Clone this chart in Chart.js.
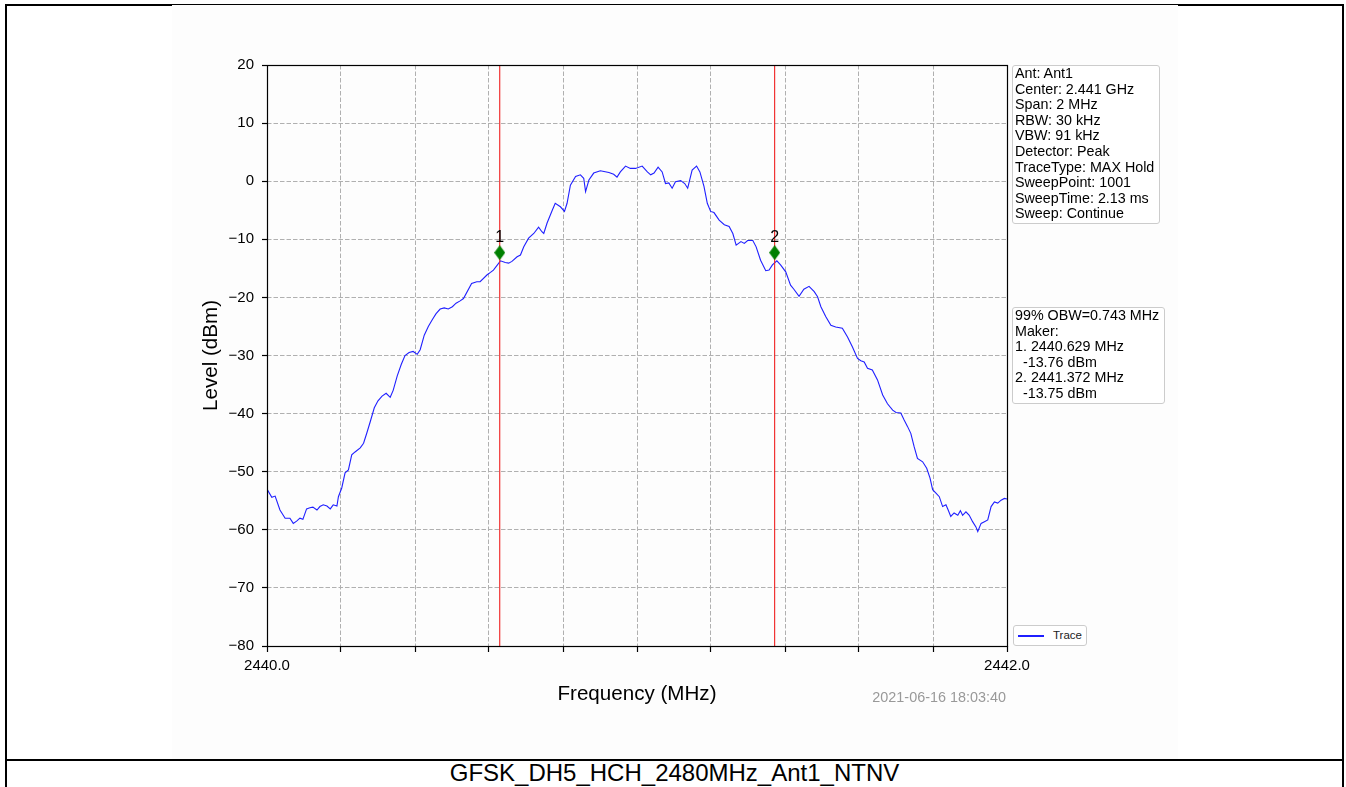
<!DOCTYPE html>
<html>
<head>
<meta charset="utf-8">
<title>GFSK_DH5_HCH_2480MHz_Ant1_NTNV</title>
<script src="https://cdn.jsdelivr.net/npm/chart.js@4.4.0/dist/chart.umd.min.js"></script>
<style>
  html, body { margin: 0; padding: 0; background: #fff; }
  body { width: 1346px; height: 787px; position: relative; overflow: hidden;
         font-family: "Liberation Sans", Arial, sans-serif; color: #000; }
  #frame { position: absolute; left: 5px; top: 4px; width: 1339px; height: 900px;
           border: 2px solid #000; box-sizing: border-box; }
  #divider { position: absolute; left: 5px; top: 759px; width: 1339px; height: 2px; background: #000; }
  #plotbg { position: absolute; left: 172px; top: 5px; width: 1006px; height: 755px; background: #fdfdfd; }
  #chart { position: absolute; left: 0; top: 0; z-index: 2; }
  .box { position: absolute; z-index: 3; background: #fff; border: 1px solid #cccccc; border-radius: 3px;
         box-sizing: border-box; font-size: 14.3px; line-height: 15.6px; white-space: pre; padding: 0 0 0 2px; color: #000; }
  #info { left: 1012px; top: 65px; width: 148px; height: 159px; }
  #obw { left: 1012px; top: 307px; width: 153px; height: 97px; }
  #legend { position: absolute; z-index: 3; left: 1013px; top: 625px; width: 74px; height: 21px;
            border: 1px solid #cccccc; border-radius: 3px; box-sizing: border-box; background: #fff;
            font-size: 11.5px; line-height: 19px; }
  #legend .swatch { position: absolute; left: 4px; top: 9px; width: 26px; height: 1.5px; background: #0000ff; }
  #legend .lbl { position: absolute; left: 39px; top: 0; color: #222; }
  #stamp { position: absolute; z-index: 3; right: 340px; top: 689px; font-size: 14.4px; color: #999; white-space: nowrap; }
  #caption { position: absolute; left: 5px; width: 1339px; top: 760px; height: 26px; line-height: 26px;
             text-align: center; font-size: 24px; }
</style>
</head>
<body>
<div id="frame"></div>
<div id="plotbg"></div>
<div id="divider"></div>
<canvas id="chart" width="1346" height="787"></canvas>
<div id="info" class="box"></div>
<div id="obw" class="box"></div>
<div id="legend"></div>
<div id="stamp">2021-06-16 18:03:40</div>
<div id="caption">GFSK_DH5_HCH_2480MHz_Ant1_NTNV</div>
<script>
// trace: frequency (MHz) and level (dBm)
const freqMHz = [
  2440.000, 2440.013, 2440.022, 2440.035, 2440.049, 2440.062, 2440.071, 2440.080, 2440.089, 2440.097,
  2440.107, 2440.116, 2440.124, 2440.135, 2440.143, 2440.152, 2440.162, 2440.171, 2440.179, 2440.189,
  2440.193, 2440.202, 2440.211, 2440.220, 2440.229, 2440.238, 2440.252, 2440.261, 2440.270, 2440.279,
  2440.290, 2440.300, 2440.311, 2440.322, 2440.333, 2440.341, 2440.352, 2440.363, 2440.373, 2440.384,
  2440.395, 2440.406, 2440.414, 2440.425, 2440.436, 2440.447, 2440.457, 2440.468, 2440.479, 2440.490,
  2440.501, 2440.511, 2440.522, 2440.531, 2440.553, 2440.567, 2440.576, 2440.595, 2440.604, 2440.612,
  2440.631, 2440.644, 2440.653, 2440.662, 2440.676, 2440.685, 2440.694, 2440.707, 2440.721, 2440.734,
  2440.743, 2440.748, 2440.757, 2440.771, 2440.779, 2440.793, 2440.804, 2440.811, 2440.820, 2440.834,
  2440.847, 2440.856, 2440.861, 2440.870, 2440.883, 2440.901, 2440.924, 2440.937, 2440.946, 2440.955,
  2440.969, 2440.982, 2440.996, 2441.014, 2441.028, 2441.037, 2441.046, 2441.057, 2441.068, 2441.077,
  2441.086, 2441.095, 2441.104, 2441.118, 2441.129, 2441.137, 2441.149, 2441.161, 2441.170, 2441.181,
  2441.190, 2441.199, 2441.208, 2441.222, 2441.236, 2441.249, 2441.259, 2441.268, 2441.281, 2441.290,
  2441.299, 2441.313, 2441.322, 2441.334, 2441.348, 2441.357, 2441.366, 2441.378, 2441.388, 2441.402,
  2441.415, 2441.424, 2441.438, 2441.451, 2441.465, 2441.479, 2441.488, 2441.497, 2441.510, 2441.524,
  2441.537, 2441.555, 2441.569, 2441.582, 2441.596, 2441.605, 2441.614, 2441.623, 2441.636, 2441.650,
  2441.664, 2441.677, 2441.691, 2441.700, 2441.713, 2441.722, 2441.731, 2441.740, 2441.749, 2441.758,
  2441.772, 2441.783, 2441.792, 2441.799, 2441.808, 2441.817, 2441.826, 2441.835, 2441.841, 2441.848,
  2441.857, 2441.867, 2441.874, 2441.880, 2441.889, 2441.898, 2441.907, 2441.916, 2441.921, 2441.930,
  2441.939, 2441.948, 2441.957, 2441.966, 2441.975, 2441.984, 2441.993, 2442.000
];
const levelDbm = [
  -53.0, -54.4, -54.2, -56.6, -58.0, -58.0, -58.9, -58.5, -58.0, -58.2,
  -56.4, -56.2, -56.1, -56.6, -56.0, -55.7, -55.9, -56.4, -55.7, -55.9,
  -54.3, -52.8, -50.2, -49.7, -47.1, -46.6, -45.9, -45.1, -43.3, -41.4,
  -39.0, -37.8, -37.0, -36.5, -37.2, -36.0, -33.5, -31.5, -30.0, -29.5,
  -29.3, -29.8, -29.0, -26.5, -25.0, -23.8, -22.8, -22.0, -21.8, -22.0,
  -21.6, -21.0, -20.6, -20.2, -17.6, -17.3, -17.3, -16.1, -15.7, -15.3,
  -13.7, -14.0, -14.1, -13.8, -13.0, -12.7, -11.3, -9.8, -9.0, -7.9,
  -8.7, -9.0, -7.2, -5.0, -3.8, -4.4, -5.2, -3.8, -0.7, 0.8,
  1.1, 0.5, -1.8, 0.2, 1.4, 1.8, 1.5, 1.2, 0.7, 1.6,
  2.6, 2.2, 2.2, 2.6, 1.6, 1.1, 1.4, 2.4, 1.6, -0.4,
  -0.3, -1.2, -0.1, 0.1, -0.4, -1.2, 1.9, 2.6, 1.6, -0.9,
  -3.8, -5.2, -5.4, -6.7, -7.5, -7.8, -9.0, -11.0, -10.4, -10.7,
  -10.2, -10.2, -11.3, -13.6, -15.4, -15.3, -14.4, -13.7, -14.4, -15.6,
  -17.9, -18.6, -19.8, -18.6, -18.1, -19.0, -19.9, -21.6, -23.3, -24.8,
  -25.1, -25.3, -26.8, -28.5, -30.5, -30.9, -31.1, -32.2, -32.5, -34.2,
  -36.8, -38.3, -39.4, -39.8, -39.9, -41.1, -42.2, -43.4, -45.7, -47.7,
  -48.3, -49.4, -51.1, -53.1, -53.7, -54.3, -56.0, -55.7, -56.6, -57.7,
  -57.1, -57.5, -56.7, -57.5, -56.9, -57.5, -58.6, -59.5, -60.3, -58.9,
  -58.6, -58.3, -56.0, -55.2, -55.4, -54.9, -54.6, -54.7
];

// markers (99% OBW edges)
const markerNames = ['1', '2'];
const markerFreqs = [2440.629, 2441.372];
const markerLevels = [-13.76, -13.75];
const diamondLevels = [-12.3, -12.3];   // where the diamonds sit on the plot
const obwMHz = 0.743;

// axes
const xMin = 2440.0, xMax = 2442.0, xStep = 0.2;
const yMin = -80, yMax = 20, yStep = 10;
const xLabelValues = [2440.0, 2442.0];

const infoLines = [
  'Ant: Ant1', 'Center: 2.441 GHz', 'Span: 2 MHz', 'RBW: 30 kHz', 'VBW: 91 kHz',
  'Detector: Peak', 'TraceType: MAX Hold', 'SweepPoint: 1001', 'SweepTime: 2.13 ms', 'Sweep: Continue'
];

const FONT = '"Liberation Sans", Arial, sans-serif';

// text boxes
document.getElementById('info').textContent = infoLines.join('\n');
const obwLines = ['99% OBW=' + obwMHz.toFixed(3) + ' MHz', 'Maker:'];
markerNames.forEach((n, i) => {
  obwLines.push(n + '. ' + markerFreqs[i].toFixed(3) + ' MHz');
  obwLines.push('  ' + markerLevels[i].toFixed(2) + ' dBm');
});
document.getElementById('obw').textContent = obwLines.join('\n');

// thin diamond used as point style
function diamond(w, h, color){
  const c = document.createElement('canvas');
  c.width = w; c.height = h;
  const g = c.getContext('2d');
  g.fillStyle = color;
  g.beginPath();
  g.moveTo(w/2, 0); g.lineTo(w, h/2); g.lineTo(w/2, h); g.lineTo(0, h/2);
  g.closePath();
  g.fill();
  return c;
}

// spines on all four sides + marker numbers
const framePlugin = {
  id: 'frame',
  afterDraw(chart){
    const {ctx, chartArea: a, scales} = chart;
    ctx.save();
    ctx.fillStyle = '#000';
    ctx.font = '16px ' + FONT;
    ctx.textAlign = 'center';
    ctx.textBaseline = 'middle';
    markerNames.forEach((n, i) => {
      const px = scales.x.getPixelForValue(markerFreqs[i]);
      const py = scales.y.getPixelForValue(diamondLevels[i]);
      ctx.fillText(n, px, py - 15);
    });
    ctx.strokeStyle = '#000';
    ctx.lineWidth = 1.2;
    ctx.strokeRect(Math.round(a.left) + 0.5, Math.round(a.top) + 0.5,
                   Math.round(a.right - a.left), Math.round(a.bottom - a.top));
    ctx.restore();
  }
};

const trace = freqMHz.map((f, i) => ({x: f, y: levelDbm[i]}));
const redLines = markerFreqs.map(f => ({
  data: [{x: f, y: yMin}, {x: f, y: yMax}],
  borderColor: '#f02020', borderWidth: 1.1, pointRadius: 0, label: 'marker line'
}));

const chart = new Chart(document.getElementById('chart'), {
  type: 'line',
  data: {
    datasets: [
      {
        label: 'Marker',
        data: markerFreqs.map((f, i) => ({x: f, y: diamondLevels[i]})),
        showLine: false,
        pointStyle: diamond(11, 15, '#008000'),
        pointRadius: 6
      },
      ...redLines,
      {
        label: 'Trace',
        data: trace,
        borderColor: '#1f1fff',
        borderWidth: 1.1,
        pointRadius: 0,
        tension: 0,
        fill: false
      }
    ]
  },
  options: {
    responsive: false,
    animation: false,
    layout: { padding: { left: 187, top: 65, right: 339, bottom: 79 } },
    plugins: { legend: { display: false }, tooltip: { enabled: false } },
    scales: {
      x: {
        type: 'linear',
        min: xMin, max: xMax,
        afterFit: s => { s.height = 62; },
        ticks: {
          stepSize: xStep,
          autoSkip: false,
          maxRotation: 0,
          padding: 5,
          color: '#000',
          font: { family: FONT, size: 15 },
          callback: v => xLabelValues.some(t => Math.abs(t - v) < 1e-6) ? v.toFixed(1) : ''
        },
        grid: { color: '#b0b0b0', lineWidth: 1, tickLength: 6, tickColor: '#000', tickWidth: 1.2, tickBorderDash: [] },
        border: { display: false, dash: [4.5, 2] },
        title: { display: true, text: 'Frequency (MHz)', color: '#000',
                 font: { family: FONT, size: 20.6 }, padding: { top: 0, bottom: 1 } }
      },
      y: {
        type: 'linear',
        min: yMin, max: yMax,
        afterFit: s => { s.width = 80; },
        ticks: {
          stepSize: yStep,
          padding: 8,
          color: '#000',
          font: { family: FONT, size: 15 },
          callback: v => String(v).replace('-', '\u2212')
        },
        grid: { color: '#b0b0b0', lineWidth: 1, tickLength: 5, tickColor: '#000', tickWidth: 1.2, tickBorderDash: [] },
        border: { display: false, dash: [4.5, 2] },
        title: { display: true, text: 'Level (dBm)', color: '#000',
                 font: { family: FONT, size: 20.6 }, padding: { top: 12, bottom: 0 } }
      }
    }
  },
  plugins: [framePlugin]
});

// legend box built from the trace dataset
const lg = document.getElementById('legend');
chart.data.datasets.filter(d => d.label === 'Trace').forEach(d => {
  lg.innerHTML = '<span class="swatch" style="background:' + d.borderColor + '"></span><span class="lbl">' + d.label + '</span>';
});
</script>
</body>
</html>
